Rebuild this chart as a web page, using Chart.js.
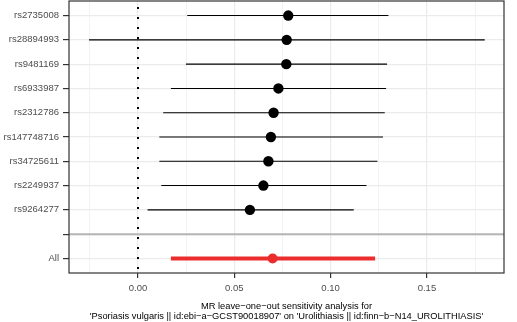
<!DOCTYPE html>
<html lang="en">
<head>
  <meta charset="UTF-8">
  <title>MR leave-one-out</title>
  <script src="https://cdn.jsdelivr.net/npm/chart.js@4/dist/chart.umd.min.js"></script>
  <style>
    body { margin: 0; background: #fff; }
    #wrap { width: 517px; height: 322px; }
  </style>
</head>
<body>
<div id="wrap"><canvas id="looChart"></canvas></div>
<script>
  // rows from top to bottom (ggplot puts "All" at the bottom, a blank row above it)
  const snps = ['rs2735008', 'rs28894993', 'rs9481169', 'rs6933987', 'rs2312786',
                'rs147748716', 'rs34725611', 'rs2249937', 'rs9264277'];
  const snpBeta = [0.078, 0.0772, 0.077, 0.0729, 0.0704, 0.0690, 0.0677, 0.0651, 0.0581];
  const snpLow  = [0.0256, -0.0254, 0.0249, 0.0171, 0.0131, 0.0111, 0.0111, 0.0121, 0.0050];
  const snpHigh = [0.130, 0.180, 0.1293, 0.1288, 0.1281, 0.1272, 0.1243, 0.1186, 0.1120];

  const allLabel = 'All';
  const allBeta = 0.0699;
  const allLow = 0.0171;
  const allHigh = 0.1231;

  const xMajor = [0, 0.05, 0.10, 0.15];
  const xMinor = [-0.025, 0.025, 0.075, 0.125, 0.175];

  // y positions: All = 1, blank = 2, then snps upward
  const yLabels = [allLabel, ''].concat(snps.slice().reverse());
  const posOf = i => snps.length - i + 2;
  const isMajor = v => xMajor.some(m => Math.abs(m - v) < 1e-9);

  const datasets = [];
  snps.forEach((s, i) => {
    datasets.push({
      type: 'line',
      data: [{ x: snpLow[i], y: posOf(i) }, { x: snpHigh[i], y: posOf(i) }],
      borderColor: '#000', borderWidth: 1.1, pointRadius: 0
    });
  });
  datasets.push({
    type: 'line',
    data: [{ x: allLow, y: 1 }, { x: allHigh, y: 1 }],
    borderColor: '#ec2d2d', borderWidth: 4, pointRadius: 0, borderCapStyle: 'butt'
  });
  datasets.push({
    type: 'scatter',
    data: snps.map((s, i) => ({ x: snpBeta[i], y: posOf(i) })),
    backgroundColor: '#000', borderWidth: 0, pointRadius: 5.2
  });
  datasets.push({
    type: 'scatter',
    data: [{ x: allBeta, y: 1 }],
    backgroundColor: '#ec2d2d', borderWidth: 0, pointRadius: 5
  });

  const refLines = {
    id: 'refLines',
    beforeDatasetsDraw(chart) {
      const { ctx, chartArea: a, scales: { x, y } } = chart;
      ctx.save();
      // grey separator above All
      const yb = y.getPixelForValue(2);
      ctx.strokeStyle = '#b5b5b5';
      ctx.lineWidth = 2;
      ctx.beginPath(); ctx.moveTo(a.left, yb); ctx.lineTo(a.right, yb); ctx.stroke();
      // dotted zero line
      const x0 = Math.round(x.getPixelForValue(0));
      ctx.strokeStyle = '#000';
      ctx.lineWidth = 2;
      ctx.setLineDash([2, 8]);
      ctx.beginPath(); ctx.moveTo(x0, a.top + 6); ctx.lineTo(x0, a.bottom + 4); ctx.stroke();
      ctx.restore();
    },
    afterDraw(chart) {
      const { ctx, chartArea: a } = chart;
      ctx.save();
      ctx.strokeStyle = '#333';
      ctx.lineWidth = 1.2;
      ctx.strokeRect(a.left, a.top, a.right - a.left, a.bottom - a.top);
      ctx.restore();
    }
  };

  const ctx = document.getElementById('looChart').getContext('2d');
  new Chart(ctx, {
    data: { datasets },
    options: {
      responsive: true,
      maintainAspectRatio: false,
      animation: false,
      layout: { autoPadding: false, padding: { top: 1, right: 13, bottom: 0, left: 0 } },
      plugins: { legend: { display: false }, tooltip: { enabled: false } },
      scales: {
        x: {
          type: 'linear',
          min: -0.0358,
          max: 0.190,
          afterBuildTicks: s => { s.ticks = xMinor.concat(xMajor).sort((a, b) => a - b).map(v => ({ value: v })); },
          afterFit: s => { s.height = 49; s.paddingLeft = 0; s.paddingRight = 0; },
          ticks: {
            autoSkip: false,
            maxRotation: 0,
            padding: 5,
            color: '#4d4d4d',
            font: { family: 'Liberation Sans, Arial, sans-serif', size: 9.5 },
            callback: v => isMajor(v) ? v.toFixed(2) : ''
          },
          grid: {
            color: '#ebebeb',
            lineWidth: c => isMajor(c.tick.value) ? 1.2 : 0.6,
            tickColor: c => isMajor(c.tick.value) ? '#333' : 'rgba(0,0,0,0)',
            tickLength: 5
          },
          border: { display: false },
          title: {
            display: true,
            text: ['MR leave\u2212one\u2212out sensitivity analysis for',
                   "'Psoriasis vulgaris || id:ebi\u2212a\u2212GCST90018907' on 'Urolithiasis || id:finn\u2212b\u2212N14_UROLITHIASIS'"],
            color: '#000',
            font: { family: 'Liberation Sans, Arial, sans-serif', size: 9.3, lineHeight: 1.05 },
            padding: { top: 5, bottom: 1 }
          }
        },
        y: {
          type: 'linear',
          min: 0.4,
          max: 11.6,
          afterBuildTicks: s => { s.ticks = yLabels.map((l, i) => ({ value: i + 1 })); },
          afterFit: s => { s.width = 69; s.paddingTop = 0; s.paddingBottom = 0; },
          ticks: {
            autoSkip: false,
            padding: 4,
            color: '#4d4d4d',
            font: { family: 'Liberation Sans, Arial, sans-serif', size: 9.5 },
            callback: v => yLabels[Math.round(v) - 1]
          },
          grid: { color: '#ebebeb', lineWidth: 1.2, tickColor: '#333', tickLength: 6 },
          border: { display: false }
        }
      }
    },
    plugins: [refLines]
  });
</script>
</body>
</html>
